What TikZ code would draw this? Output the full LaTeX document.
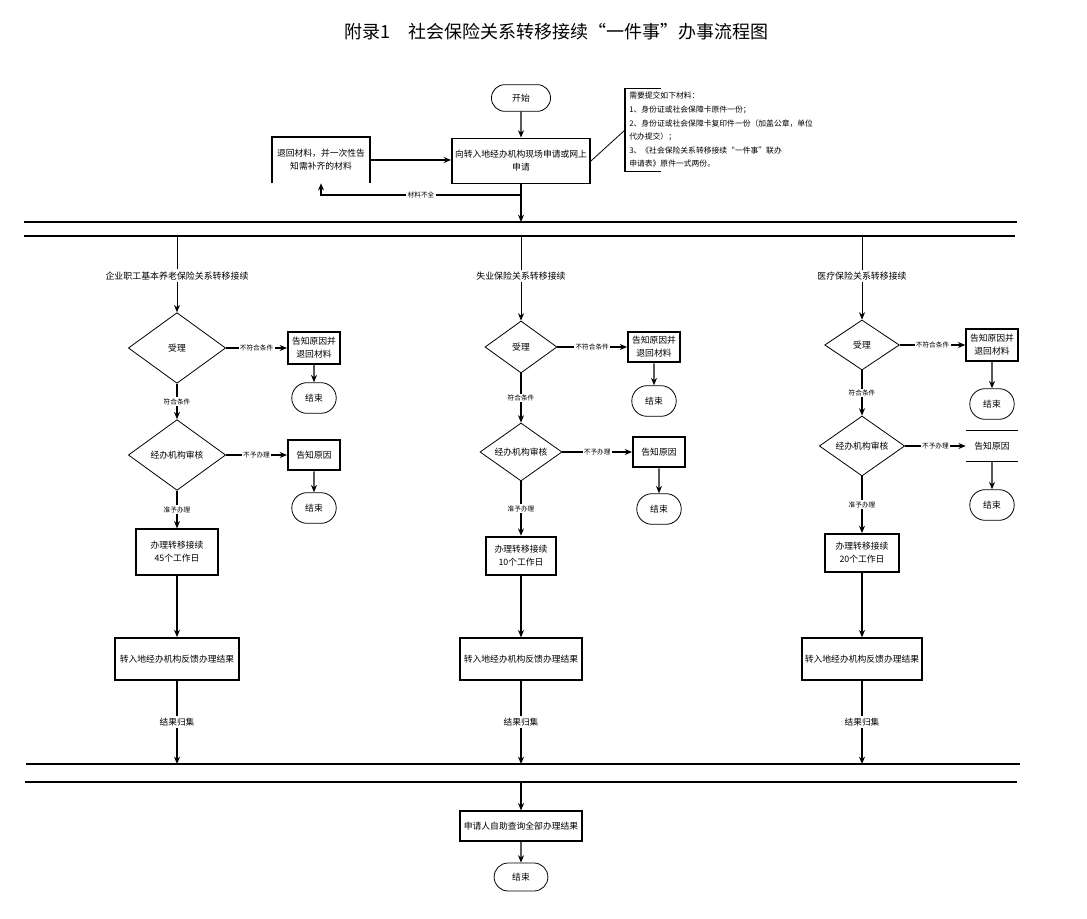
\documentclass[tikz,border=0pt]{standalone}
\usepackage{fontspec}
\setmainfont{Noto Sans CJK SC}
\usetikzlibrary{shapes.geometric, shapes.misc, arrows.meta}

\begin{document}
\begin{tikzpicture}[x=0.75pt, y=-0.75pt, >={Stealth[length=5.5pt, width=4.5pt]},
    every node/.style={font=\fontsize{6.6}{9.8}\selectfont},
    box/.style={draw, line width=1.4pt, align=center, inner sep=1pt},
    dec/.style={diamond, draw, line width=0.6pt, aspect=1.5, inner sep=0pt},
    term/.style={rounded rectangle, draw, line width=0.6pt, minimum width=40pt, minimum height=23pt},
    lbl/.style={fill=white, inner sep=1pt, font=\fontsize{5}{6}\selectfont},
    collbl/.style={fill=white, inner sep=1.5pt, font=\fontsize{6.7}{8}\selectfont},
    reslbl/.style={fill=white, inner sep=1.5pt, font=\fontsize{6.5}{8}\selectfont},
    flow/.style={->, line width=0.9pt},
    lane/.style={line width=1pt}]
    \fill[white] (0,0) rectangle (1087,919);
    \useasboundingbox (0,0) rectangle (1087,919);

    % Tiêu đề
    \node (title) at (556,32) {\fontsize{13.5}{16}\selectfont 附录1\hspace{1em}社会保险关系转移接续“一件事”办事流程图};

    % Phần đầu: nộp hồ sơ
    \node[term, minimum width=51pt, minimum height=20pt] (start) at (521,98) {开始};
    \node[box, minimum width=103.5pt, minimum height=33.75pt] (apply) at (521,161) {向转入地经办机构现场申请或网上\\申请};
    \node[align=center, minimum width=73.5pt, minimum height=34.5pt] (back) at (321,160) {退回材料，并一次性告\\知需补齐的材料};
    \draw[line width=1.4pt] (back.south west) |- (back.north east) -- (back.south east);
    \node[anchor=west, align=left, inner xsep=3pt, inner ysep=3pt, font=\fontsize{5.85}{10.2}\selectfont] (note) at (625,130)
        {需要提交如下材料：\\1、身份证或社会保障卡原件一份；\\2、身份证或社会保障卡复印件一份（加盖公章，单位\\代办提交）；\\3、《社会保险关系转移接续“一件事”联办\\申请表》原件一式两份。};
    \draw[line width=0.8pt] ([xshift=27pt]note.north west) -- (note.north west) -- (note.south west) -- ([xshift=27pt]note.south west);
    \draw[line width=0.6pt] (apply.east) -- (note.west);

    \draw[flow] (start) -- (apply);
    \draw[flow] (back.east) -- (apply.west |- back.east);
    \coordinate (split) at (521,195);
    \draw[flow] (split) -- node[lbl]{材料不全} (split -| back) -- (back.south);

    % Các đường phân vùng
    \coordinate (lane1) at (24,222);  \coordinate (lane1e) at (1017,222);
    \coordinate (lane2) at (24,236);  \coordinate (lane2e) at (1015,236);
    \coordinate (lane3) at (26,764);  \coordinate (lane3e) at (1020,764);
    \coordinate (lane4) at (25,782);  \coordinate (lane4e) at (1017,782);
    \draw[line width=2.2pt] (lane1) -- (lane1e);
    \draw[lane] (lane2) -- (lane2e);
    \draw[lane] (lane3) -- (lane3e);
    \draw[lane] (lane4) -- (lane4e);
    \draw[flow] (apply) -- (apply |- lane1);

    % Cột trái: bảo hiểm dưỡng lão
    \node[dec, minimum width=73pt, minimum height=53pt] (a1) at (177,348) {受理};
    \node[box, minimum width=39pt, minimum height=24pt] (a1r) at (314,348) {告知原因并\\退回材料};
    \node[term] (a1e) at (314,398) {结束};
    \node[dec, minimum width=73pt, minimum height=53pt] (a2) at (177,455) {经办机构审核};
    \node[box, minimum width=39pt, minimum height=23pt] (a2r) at (314,455) {告知原因};
    \node[term] (a2e) at (314,508) {结束};
    \node[box, minimum width=61pt, minimum height=34pt] (a3) at (177,552) {办理转移接续\\45个工作日};
    \node[box, minimum width=93pt, minimum height=31.5pt] (a4) at (177,659) {转入地经办机构反馈办理结果};
    \draw[flow, line width=0.6pt] (a1 |- lane2) -- node[collbl, pos=0.52]{企业职工基本养老保险关系转移接续} (a1);
    \draw[flow] (a1) -- node[lbl]{不符合条件} (a1r);
    \draw[flow] (a1r) -- (a1e);
    \draw[flow] (a1) -- node[lbl]{符合条件} (a2);
    \draw[flow] (a2) -- node[lbl]{不予办理} (a2r);
    \draw[flow] (a2r) -- (a2e);
    \draw[flow] (a2) -- node[lbl]{准予办理} (a3);
    \draw[flow] (a3) -- (a4);
    \draw[flow] (a4) -- node[reslbl]{结果归集} (a4 |- lane3);

    % Cột giữa: bảo hiểm thất nghiệp
    \node[dec, minimum width=54pt, minimum height=39pt] (b1) at (521,347) {受理};
    \node[box, minimum width=39pt, minimum height=23pt] (b1r) at (654,347) {告知原因并\\退回材料};
    \node[term] (b1e) at (654,401) {结束};
    \node[dec, minimum width=61.5pt, minimum height=43.5pt] (b2) at (521,452) {经办机构审核};
    \node[box, minimum width=39pt, minimum height=23pt] (b2r) at (659,452) {告知原因};
    \node[term] (b2e) at (659,509) {结束};
    \node[box, minimum width=52.5pt, minimum height=29pt] (b3) at (521,556) {办理转移接续\\10个工作日};
    \node[box, minimum width=92pt, minimum height=31pt] (b4) at (521,659) {转入地经办机构反馈办理结果};
    \draw[flow, line width=0.6pt] (b1 |- lane2) -- node[collbl, pos=0.47]{失业保险关系转移接续} (b1);
    \draw[flow] (b1) -- node[lbl]{不符合条件} (b1r);
    \draw[flow] (b1r) -- (b1e);
    \draw[flow] (b1) -- node[lbl]{符合条件} (b2);
    \draw[flow] (b2) -- node[lbl]{不予办理} (b2r);
    \draw[flow] (b2r) -- (b2e);
    \draw[flow] (b2) -- node[lbl]{准予办理} (b3);
    \draw[flow] (b3) -- (b4);
    \draw[flow] (b4) -- node[reslbl]{结果归集} (b4 |- lane3);

    % Cột phải: bảo hiểm y tế
    \node[dec, minimum width=56pt, minimum height=37.5pt] (c1) at (862,345) {受理};
    \node[box, line width=1pt, minimum width=39pt, minimum height=24pt] (c1r) at (992,345) {告知原因并\\退回材料};
    \node[term] (c1e) at (992,404) {结束};
    \node[dec, minimum width=64pt, minimum height=45pt] (c2) at (862,446) {经办机构审核};
    \node[minimum width=39pt, minimum height=22.5pt] (c2r) at (992,446) {告知原因};
    \draw[line width=1pt] (c2r.north west) -- (c2r.north east) (c2r.south west) -- (c2r.south east);
    \node[term] (c2e) at (992,505) {结束};
    \node[box, minimum width=55pt, minimum height=28.5pt] (c3) at (862,553) {办理转移接续\\20个工作日};
    \node[box, minimum width=90pt, minimum height=31pt] (c4) at (862,659) {转入地经办机构反馈办理结果};
    \draw[flow, line width=0.6pt] (c1 |- lane2) -- node[collbl, pos=0.48]{医疗保险关系转移接续} (c1);
    \draw[flow] (c1) -- node[lbl]{不符合条件} (c1r);
    \draw[flow] (c1r) -- (c1e);
    \draw[flow] (c1) -- node[lbl]{符合条件} (c2);
    \draw[flow] (c2) -- node[lbl]{不予办理} (c2r);
    \draw[flow] (c2r) -- (c2e);
    \draw[flow] (c2) -- node[lbl]{准予办理} (c3);
    \draw[flow] (c3) -- (c4);
    \draw[flow] (c4) -- node[reslbl]{结果归集} (c4 |- lane3);

    % Phần cuối
    \node[box, minimum width=91pt, minimum height=22pt] (query) at (521,826) {申请人自助查询全部办理结果};
    \node[term, minimum width=47pt, minimum height=21pt] (fin) at (521,877) {结束};
    \draw[flow] (query |- lane4) -- (query);
    \draw[flow] (query) -- (fin);
\end{tikzpicture}
\end{document}
